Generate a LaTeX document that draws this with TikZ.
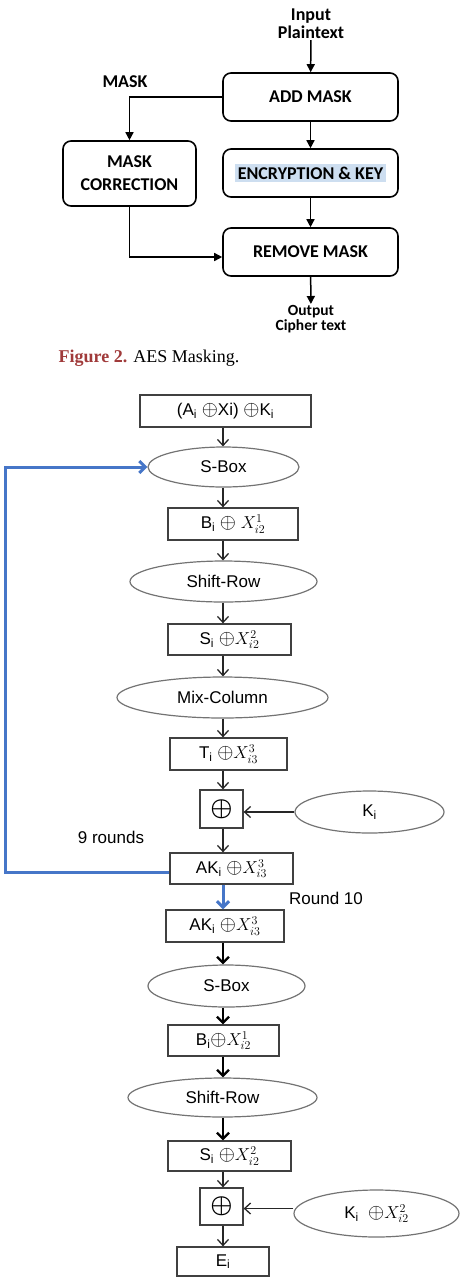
\documentclass[tikz,border=0pt]{standalone}
\usepackage{amsmath}
\usepackage{fontspec}
\usepackage{tikz}
\usetikzlibrary{shapes,arrows.meta,positioning,calc}
\setmainfont{Liberation Sans}
\newfontfamily\calfont{Carlito}
\newfontfamily\serfont{Liberation Serif}
\definecolor{figred}{RGB}{160,58,58}
\definecolor{hlblue}{RGB}{205,222,240}
\definecolor{loopblue}{RGB}{70,118,200}
\newcommand{\xo}{{\fontsize{21}{21}\selectfont$\oplus$}}

\begin{document}
\begin{tikzpicture}[x=1pt, y=-1pt,
    mbox/.style={draw, line width=1.6pt, rounded corners=8pt, inner sep=0pt,
        font=\calfont\bfseries\fontsize{18}{22}\selectfont, align=center},
    mtxt/.style={inner sep=1pt, align=center, font=\calfont\bfseries\fontsize{18}{18}\selectfont},
    marr/.style={-{Triangle[length=8pt,width=8pt]}, line width=1.5pt},
    sq/.style={draw=black!75, line width=1.3pt, inner sep=0pt, font=\fontsize{17}{19}\selectfont},
    ov/.style={ellipse, draw=black!55, line width=1.2pt, inner sep=0pt, font=\fontsize{17}{19}\selectfont},
    xorbox/.style={sq, minimum width=43pt, minimum height=38pt, font=\fontsize{30}{30}\selectfont},
    thinarr/.style={-{Straight Barb[length=6pt,width=11pt]}, line width=1.3pt, black!85},
    thickarr/.style={-{Straight Barb[length=6pt,width=12pt]}, line width=2.3pt},
    bluearr/.style={-{Straight Barb[length=6pt,width=12pt]}, line width=3pt, loopblue},
    lbl/.style={inner sep=0pt, font=\fontsize{17}{19}\selectfont}]
    \useasboundingbox (0,0) rectangle (467,1278);

    % Masking flow
    \node[mtxt] (inp) at (311,24) {Input\\Plaintext};
    \node[mbox, minimum width=175pt, minimum height=48pt] (add) at (310.5,97) {ADD MASK};
    \node[mbox, minimum width=175pt, minimum height=48pt] (enc) at (310.5,173)
        {\setlength{\fboxsep}{3pt}\colorbox{hlblue}{ENCRYPTION \& KEY}};
    \node[mbox, minimum width=175pt, minimum height=48pt] (rem) at (310.5,252) {REMOVE MASK};
    \node[mbox, minimum width=133pt, minimum height=65pt] (corr) at (129.5,173.5) {MASK\\[1pt]CORRECTION};
    \node[mtxt] (mask) at (125,82) {MASK};
    \node[mtxt, font=\calfont\bfseries\fontsize{15.5}{15}\selectfont] (out) at (311,319) {Output\\Cipher text};

    \draw[marr] (inp) -- (add);
    \draw[marr] (add) -- (enc);
    \draw[marr] (enc) -- (rem);
    \draw[marr] (rem) -- (out);
    \draw[marr] (add.west) -| (corr.north);
    \draw[marr] (corr.south) |- ([yshift=-5pt]rem.west);

    % Caption
    \node[inner sep=0pt, font=\serfont\fontsize{18}{20}\selectfont] (cap) at (149,358)
        {\textcolor{figred}{\textbf{Figure 2.}} AES Masking.};

    % Rounds 1-9
    \coordinate (spine) at (223,0);
    \coordinate (back) at (5,0);
    \node[sq, minimum width=171pt, minimum height=32pt] (b1) at (225.5,411)
        {(A\textsubscript{i} \xo Xi) \xo K\textsubscript{i}};
    \node[ov, minimum width=151pt, minimum height=40pt] (sb1) at (223.5,467) {S-Box};
    \node[sq, minimum width=130pt, minimum height=32pt] (bx1) at (233,524)
        {B\textsubscript{i} \xo\ $X^1_{i2}$};
    \node[ov, minimum width=187pt, minimum height=41pt] (sr1) at (223.5,581.5) {Shift-Row};
    \node[sq, minimum width=123pt, minimum height=31pt] (s1) at (229.5,639.5)
        {S\textsubscript{i} \xo$X^2_{i2}$};
    \node[ov, minimum width=211pt, minimum height=41pt] (mc) at (222.5,697.5) {Mix-Column};
    \node[sq, minimum width=117pt, minimum height=32pt] (t1) at (228.5,754)
        {T\textsubscript{i} \xo$X^3_{i3}$};
    \node[xorbox] (x1) at (221.5,809) {$\boldsymbol{\oplus}$};
    \node[ov, minimum width=149pt, minimum height=42pt] (k1) at (369.5,812) {K\textsubscript{i}};
    \node[sq, minimum width=123pt, minimum height=31pt] (ak1) at (231.5,868.5)
        {AK\textsubscript{i} \xo$X^3_{i3}$};
    \node[lbl] (nine) at (111,837) {9 rounds};

    \draw[thinarr] (b1.south -| spine) -- (sb1.north -| spine);
    \draw[thinarr] (sb1.south -| spine) -- (bx1.north -| spine);
    \draw[thinarr] (bx1.south -| spine) -- (sr1.north -| spine);
    \draw[thinarr] (sr1.south -| spine) -- (s1.north -| spine);
    \draw[thinarr] (s1.south -| spine) -- (mc.north -| spine);
    \draw[thinarr] (mc.south -| spine) -- (t1.north -| spine);
    \draw[thinarr] (t1.south -| spine) -- (x1.north -| spine);
    \draw[thinarr] (k1.west) -- (k1.west -| x1.east);
    \draw[thinarr] (x1.south -| spine) -- (ak1.north -| spine);
    \draw[bluearr] ([yshift=-4pt]ak1.west) -| (back |- sb1.west) -- (sb1.west);

    % Round 10
    \node[lbl] (ten) at (326,898) {Round 10};
    \node[sq, minimum width=118pt, minimum height=32pt] (ak2) at (225,926)
        {AK\textsubscript{i} \xo$X^3_{i3}$};
    \node[ov, minimum width=157pt, minimum height=42pt] (sb2) at (226.5,986) {S-Box};
    \node[sq, minimum width=111pt, minimum height=31pt] (bx2) at (223.5,1040.5)
        {B\textsubscript{i}\xo$X^1_{i2}$};
    \node[ov, minimum width=189pt, minimum height=39pt] (sr2) at (222.5,1097.5) {Shift-Row};
    \node[sq, minimum width=123pt, minimum height=30pt] (s2) at (229.5,1156)
        {S\textsubscript{i} \xo$X^2_{i2}$};
    \node[xorbox, minimum height=37pt] (x2) at (221.5,1206.5) {$\boldsymbol{\oplus}$};
    \node[ov, minimum width=165pt, minimum height=47pt] (k2) at (376.5,1213.5)
        {K\textsubscript{i} \ \xo$X^2_{i2}$};
    \node[sq, minimum width=92pt, minimum height=29pt] (e1) at (223,1261.5) {E\textsubscript{i}};

    \draw[bluearr] (ak1.south -| spine) -- (ak2.north -| spine);
    \draw[thickarr] (ak2.south -| spine) -- (sb2.north -| spine);
    \draw[thickarr] (sb2.south -| spine) -- (bx2.north -| spine);
    \draw[thickarr] (bx2.south -| spine) -- (sr2.north -| spine);
    \draw[thickarr] (sr2.south -| spine) -- (s2.north -| spine);
    \draw[thinarr] (s2.south -| spine) -- (x2.north -| spine);
    \draw[thinarr] ([yshift=5pt]k2.west) -- ([yshift=5pt]k2.west -| x2.east);
    \draw[thinarr] (x2.south -| spine) -- (e1.north -| spine);
\end{tikzpicture}
\end{document}
